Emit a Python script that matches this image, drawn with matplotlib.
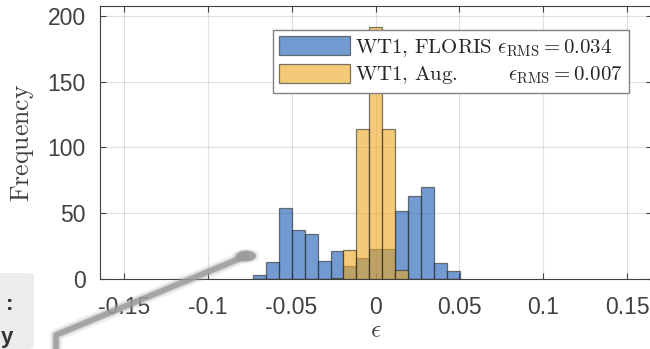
import numpy as np
import matplotlib
matplotlib.use("Agg")
import matplotlib.pyplot as plt
from matplotlib.patches import FancyBboxPatch, Circle
from matplotlib.lines import Line2D

plt.rcParams['mathtext.fontset'] = 'cm'
plt.rcParams['font.family'] = ['Liberation Sans', 'DejaVu Sans']

# histogram bins (shared by both series)
bin_start = -0.073
bin_width = 0.0077
n_bins = 16
edges = bin_start + bin_width * np.arange(n_bins + 1)

# counts per bin
floris_counts = [3, 13, 54, 37, 34, 14, 21, 10, 16, 23, 23, 52, 63, 70, 12, 6]
aug_counts = [0, 0, 0, 0, 0, 0, 1, 22, 114, 192, 114, 7, 0, 0, 0, 0]

floris_label = r'$\mathrm{WT1,}\,\mathrm{FLORIS}\ \epsilon_{\mathrm{RMS}} = 0.034$'
aug_label = r'$\mathrm{WT1,}\,\mathrm{Aug.}\qquad\;\;\epsilon_{\mathrm{RMS}} = 0.007$'

xticks = [-0.15, -0.1, -0.05, 0, 0.05, 0.1, 0.15]
xticklabels = ['-0.15', '-0.1', '-0.05', '0', '0.05', '0.1', '0.15']
yticks = [0, 50, 100, 150, 200]

blue = '#1658B4'
yellow = '#EEA81E'
edge = '#262626'
axcol = '#404040'

fig = plt.figure(figsize=(6.5, 3.49), dpi=100)
W, H = 650, 349
ax = fig.add_axes([99.5 / W, (H - 279) / H, 552 / W, 273 / H])

ax.bar(edges[:-1], floris_counts, width=np.diff(edges), align='edge',
       color=blue, alpha=0.6, edgecolor=edge, linewidth=0.9, label=floris_label, zorder=2)
ax.bar(edges[:-1], aug_counts, width=np.diff(edges), align='edge',
       color=yellow, alpha=0.6, edgecolor=edge, linewidth=0.9, label=aug_label, zorder=3)

ax.set_xlim(-0.1645, 0.1645)
ax.set_ylim(0, 207.6)
ax.set_xticks(xticks)
ax.set_xticklabels(xticklabels)
ax.set_yticks(yticks)
ax.grid(True, color='#000000', alpha=0.12, linewidth=0.8, zorder=0)
ax.set_axisbelow(True)
ax.tick_params(direction='in', length=4, width=0.8, colors=axcol,
               labelsize=16.5, top=True, right=True)
ax.tick_params(axis='x', pad=12)
ax.tick_params(axis='y', pad=10)
for s in ax.spines.values():
    s.set_color(axcol)
    s.set_linewidth(0.8)

ax.set_xlabel(r'$\epsilon$', fontsize=18, color=axcol, labelpad=0)
ax.set_ylabel(r'$\mathrm{Frequency}$', fontsize=18.5, color=axcol, labelpad=8)

leg = ax.legend(loc='upper right', bbox_to_anchor=(0.959, 0.912), borderaxespad=0,
                fontsize=15, handlelength=3.4, handleheight=1.0, labelspacing=0.25,
                handletextpad=0.25, borderpad=0.3, fancybox=False, framealpha=1,
                edgecolor='#808080')
leg.get_frame().set_linewidth(1.0)
for t in leg.get_texts():
    t.set_color('#262626')

# screenshot overlay in the lower left corner
fig.patches.append(FancyBboxPatch((-6 / W, 0), 40 / W, 76 / H,
                                  boxstyle='round,pad=0,rounding_size=0.01',
                                  transform=fig.transFigure, facecolor='#ececec',
                                  edgecolor='none', zorder=5))
fig.text(10 / W, (H - 304) / H, ':', fontsize=16, fontweight='bold', color='#333333',
         ha='center', va='center', zorder=6)
fig.text(7 / W, (H - 348) / H, 'y', fontsize=16, fontweight='bold', color='#333333',
         ha='center', va='bottom', zorder=6)
for lw, a in [(9, 0.15), (6, 0.3), (4, 0.8)]:
    fig.lines.append(Line2D([56 / W, 56 / W, 246 / W], [0, (H - 335) / H, (H - 256) / H],
                            transform=fig.transFigure, color='#9a9a9a', linewidth=lw,
                            alpha=a, solid_capstyle='round', zorder=7))
for r, a in [(13, 0.25), (10, 0.9)]:
    fig.patches.append(Circle((246 / W, (H - 256) / H), r / W, transform=fig.transFigure,
                              facecolor='#9a9a9a', edgecolor='none', alpha=a, zorder=7))

fig.savefig('out.png', dpi=100)
